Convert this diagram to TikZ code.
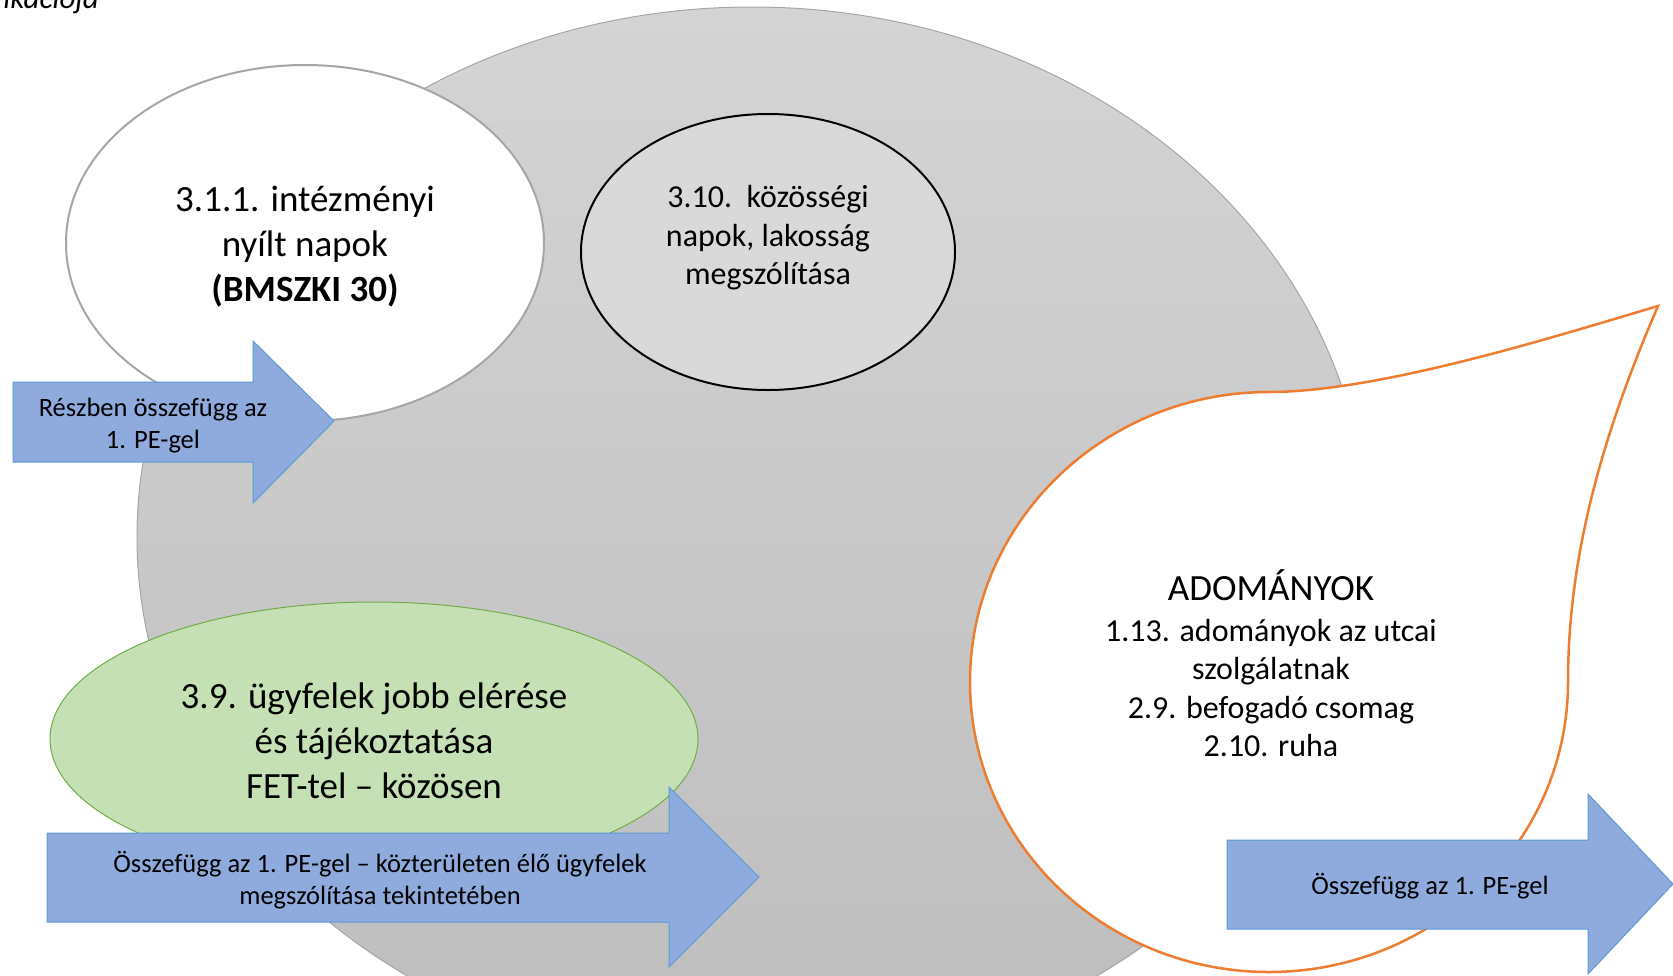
\documentclass[tikz,border=0pt]{standalone}
\usepackage{fontspec}
\setmainfont{Carlito}
\usetikzlibrary{shapes.geometric}
\definecolor{hatterfent}{HTML}{D4D4D4}
\definecolor{hatterlent}{HTML}{BDBDBD}
\definecolor{hatterkeret}{HTML}{A6A6A6}
\definecolor{nyilkek}{HTML}{8FAADC}
\definecolor{nyilkeret}{HTML}{5B9BD5}
\definecolor{zoldkitolt}{HTML}{C5E0B4}
\definecolor{zoldkeret}{HTML}{70AD47}
\definecolor{narancs}{HTML}{ED7D31}
\definecolor{szurkekitolt}{HTML}{D9D9D9}
\begin{document}
\begin{tikzpicture}[x=1pt,y=-1pt]

    \tikzset{
      hatter/.style={
        draw=hatterkeret,
        line width=1pt,
        top color=hatterfent,
        bottom color=hatterlent,
      },
      buborek/.style={
        ellipse,
        inner sep=0pt,
        align=center,
      },
      nyil/.style={
        draw=nyilkeret,
        fill=nyilkek,
        line width=1pt,
      },
      nyilszoveg/.style={
        align=center,
        font=\fontsize{26.5}{32}\selectfont,
      },
    }
    \useasboundingbox (0,0) rectangle (1673,975);
    \clip (0,0) rectangle (1673,975);

    % cut-off caption line
    \node[anchor=base east, inner sep=0pt, font=\fontsize{31}{37}\selectfont\itshape] (cimsor) at (99,8) {ikációja};

    % big background ellipse
    \draw[hatter] (752,537) ellipse [x radius=615, y radius=530];

    % bubbles
    \node[buborek, draw=hatterkeret, line width=2pt, fill=white, minimum width=478pt, minimum height=356pt] (nyiltnap) at (305,243) {};
    \node[align=center, font=\fontsize{37}{45}\selectfont] (nyiltnapszoveg) at (305,247)
      {3.1.1. intézményi\\nyílt napok\\\textbf{(BMSZKI 30)}};
    \node[buborek, draw=black, line width=2pt, fill=szurkekitolt, minimum width=374pt, minimum height=276pt] (kozossegi) at (768,252) {};
    \node[align=center, font=\fontsize{32}{38.5}\selectfont] (kozossegiszoveg) at (768,238)
      {3.10.\ \ közösségi\\napok, lakosság\\megszólítása};
    \node[buborek, draw=zoldkeret, line width=1pt, fill=zoldkitolt, minimum width=648pt, minimum height=274pt] (ugyfelek) at (374,739) {};
    \node[align=center, font=\fontsize{37}{45}\selectfont] (ugyfelekszoveg) at (374,741)
      {3.9. ügyfelek jobb elérése\\és tájékoztatása\\FET-tel – közösen};

    % teardrop
    \draw[narancs, line width=2.5pt, fill=white] (1658,306) .. controls (1600,440) and (1568,560) .. (1568,682)
      arc[start angle=0, end angle=270, x radius=299, y radius=290]
      .. controls (1380,392) and (1560,335) .. (1658,306) -- cycle;
    \node[anchor=base, font=\fontsize{37}{44}\selectfont] (adomanyok) at (1271,600) {ADOMÁNYOK};
    \node[align=center, font=\fontsize{32}{38.5}\selectfont] (adomanyoklista) at (1271,688)
      {1.13. adományok az utcai\\szolgálatnak\\2.9. befogadó csomag\\2.10. ruha};

    % arrows
    \draw[nyil] (13,382) -- (253,382) -- (253,341) -- (334,421) -- (253,503) -- (253,462) -- (13,462) -- cycle;
    \node[nyilszoveg] (reszben) at (153,426) {Részben összefügg az\\1. PE-gel};
    \draw[nyil] (47,833) -- (669,833) -- (669,787) -- (759,877) -- (669,967) -- (669,922) -- (47,922) -- cycle;
    \node[nyilszoveg] (kozterulet) at (380,880) {Összefügg az 1. PE-gel – közterületen élő ügyfelek\\megszólítása tekintetében};
    \draw[nyil] (1227,840) -- (1588,840) -- (1588,794) -- (1673,884) -- (1588,974) -- (1588,929) -- (1227,929) -- cycle;
    \node[nyilszoveg] (osszefugg) at (1430,886) {Összefügg az 1. PE-gel};

\end{tikzpicture}
\end{document}
